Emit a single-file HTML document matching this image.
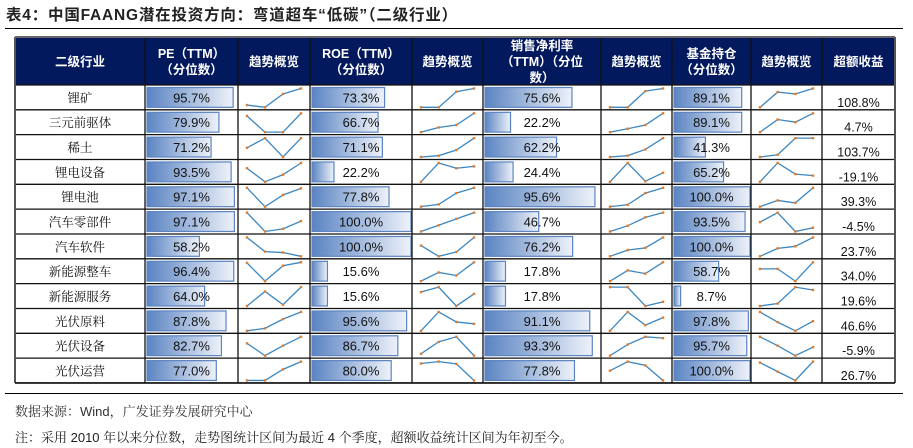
<!DOCTYPE html>
<html><head><meta charset="utf-8">
<style>
body{margin:0;width:913px;height:448px;background:#fff;position:relative;overflow:hidden;font-family:"Liberation Sans","Noto Sans CJK SC",sans-serif;}
#title{position:absolute;left:6px;top:3px;font-size:15.5px;font-weight:bold;color:#222;letter-spacing:0.8px;white-space:nowrap;}
#rule1{position:absolute;left:5px;top:28px;width:898px;height:1px;background:#000;}
#rule2{position:absolute;left:5px;top:393px;width:898px;height:1px;background:#000;}
#src{position:absolute;left:15px;top:401px;font-size:13px;color:#333;font-family:"Liberation Sans","Noto Serif CJK SC",serif;}
#note{position:absolute;left:15px;top:427px;font-size:13px;color:#222;font-family:"Liberation Sans","Noto Serif CJK SC",serif;white-space:nowrap;}
</style></head><body>
<div id="title">表4：中国FAANG潜在投资方向：弯道超车“低碳”（二级行业）</div>
<div id="rule1"></div>
<svg id="tbl" width="913" height="448" style="position:absolute;left:0;top:0"></svg>
<div id="rule2"></div>
<div id="src">数据来源：Wind，广发证券发展研究中心</div>
<div id="note">注：采用 2010 年以来分位数，走势图统计区间为最近 4 个季度，超额收益统计区间为年初至今。</div>
<script>
const industries=["锂矿","三元前驱体","稀土","锂电设备","锂电池","汽车零部件","汽车软件","新能源整车","新能源服务","光伏原料","光伏设备","光伏运营"];
const pe=[95.7,79.9,71.2,93.5,97.1,97.1,58.2,96.4,64.0,87.8,82.7,77.0];
const roe=[73.3,66.7,71.1,22.2,77.8,100.0,100.0,15.6,15.6,95.6,86.7,80.0];
const margin=[75.6,22.2,62.2,24.4,95.6,46.7,76.2,17.8,17.8,91.1,93.3,77.8];
const fund=[89.1,89.1,41.3,65.2,100.0,93.5,100.0,58.7,8.7,97.8,95.7,100.0];
const excess=["108.8%","4.7%","103.7%","-19.1%","39.3%","-4.5%","23.7%","34.0%","19.6%","46.6%","-5.9%","26.7%"];
const peTrend=[[0.12,0,0.71,1],[0.86,0,0,1],[0.49,1,0,1],[0.72,0,0.38,1],[1,0,0.62,0.97],[1,0,0.14,0.55],[1,0.25,0.2,0],[0.97,0,0.82,1],[0,0.77,0.07,1],[0,0.13,0.62,1],[0.65,0,0.53,1],[0,0,0.59,1]];
const roeTrend=[[0,0,0.83,1],[0,0.25,0.38,1],[0,0.07,0.37,1],[0,1,0.72,0.82],[0,0.12,0.72,1],[0,0.33,0.67,1],[0.57,0,0.23,1],[0,0.46,0.3,1],[0.74,1,0,0.64],[0,1,0.47,0.37],[0.1,0.73,1,0],[0.9,1,0.88,0]];
const marginTrend=[[0,0,0.86,1],[0,0.18,0.38,1],[0,0.07,0.4,1],[0,1,0.03,0.48],[0,0.1,0.72,1],[0,0.3,0.75,1],[0,0.33,0.45,1],[0,0.57,0.4,1],[1,1,0,0.22],[0,1,0.3,0.7],[0,0.59,1,0.93],[0.52,1,0.8,0]];
const fundTrend=[[0,0.81,0.71,1],[0,0.67,0.53,1],[0,0.12,1,1],[0,1,0.41,0.33],[0,0.33,0.2,1],[0.5,1,0,0.2],[0,0.42,0.53,1],[0.65,0.65,0,1],[0,0.13,1,0.85],[1,0.46,0,0.51],[1,0.53,0,0.45],[0.95,0.47,0,1]];
const headers=[["二级行业"],["PE（TTM）","（分位数）"],["趋势概览"],["ROE（TTM）","（分位数）"],["趋势概览"],["销售净利率","（TTM）（分位","数）"],["趋势概览"],["基金持仓","（分位数）"],["趋势概览"],["超额收益"]];

const NS="http://www.w3.org/2000/svg";
const svg=document.getElementById('tbl');
const cols=[15,145,238,310,412,483,601,672,751,822,895];
const top0=37,headH=48,rowH=24.83;
const rowY=i=>top0+headH+i*rowH;
const SANS='font-family:"Liberation Sans","Noto Sans CJK SC",sans-serif';
const SERIF='font-family:"Liberation Serif","Noto Serif CJK SC",serif';
function mk(tag,attrs,parent){const e=document.createElementNS(NS,tag);for(const k in attrs)e.setAttribute(k,attrs[k]);(parent||svg).appendChild(e);return e;}
const defs=mk('defs',{});
const lg=mk('linearGradient',{id:'bg',x1:'0',x2:'1',y1:'0',y2:'0'},defs);
mk('stop',{offset:'0','stop-color':'#5b84c2'},lg);
mk('stop',{offset:'1','stop-color':'#eef2f9'},lg);

const hdr=mk('rect',{x:cols[0],y:top0,width:cols[10]-cols[0],height:headH,fill:'#03195e'});


headers.forEach((h,c)=>{
  const cx=(cols[c]+cols[c+1])/2;
  const n=h.length,lh=16;
  h.forEach((t,k)=>{
    const tx=mk('text',{x:cx,y:top0+headH/2+(k-(n-1)/2)*lh+5,'text-anchor':'middle','font-size':12.5,'font-weight':'bold',fill:'#fff',style:SANS});
    tx.textContent=t;
    
    
  });
});

function bar(c,i,v){
  const x0=cols[c]+2,w=(cols[c+1]-cols[c]-3)*v/100;
  const y=rowY(i)+2.5,h=rowH-5;
  const r=mk('rect',{x:x0,y:y,width:w,height:h,fill:'url(#bg)',stroke:'#5b84c2','stroke-width':1.2});
  
  
  const t=mk('text',{x:(cols[c]+cols[c+1])/2,y:rowY(i)+rowH/2+5,'text-anchor':'middle','font-size':13,fill:'#111',style:SANS});
  t.textContent=v.toFixed(1)+'%';
  
  
}
function spark(c,i,vals){
  const x0=cols[c]+9,x1=cols[c+1]-9;
  const yT=rowY(i)+3.5,yB=rowY(i)+rowH-2.5;
  const px=k=>x0+(x1-x0)*k/(vals.length-1);
  const py=v=>yB-(yB-yT)*v;
  const pts=vals.map((v,k)=>px(k)+','+py(v)).join(' ');
  const l=mk('polyline',{points:pts,fill:'none',stroke:'#3a87c4','stroke-width':1.3});
  
  
  vals.forEach((v,k)=>{
    const m=mk('rect',{x:px(k)-1.2,y:py(v)-1.2,width:2.4,height:2.4,fill:'#e07b2a'});
    
    
  });
}
industries.forEach((name,i)=>{
  const t=mk('text',{x:(cols[0]+cols[1])/2,y:rowY(i)+rowH/2+5,'text-anchor':'middle','font-size':12.5,fill:'#111',style:SERIF});
  t.textContent=name;
  
  
  bar(1,i,pe[i]);spark(2,i,peTrend[i]);
  bar(3,i,roe[i]);spark(4,i,roeTrend[i]);
  bar(5,i,margin[i]);spark(6,i,marginTrend[i]);
  bar(7,i,fund[i]);spark(8,i,fundTrend[i]);
  const e=mk('text',{x:(cols[9]+cols[10])/2,y:rowY(i)+rowH-3,'text-anchor':'middle','font-size':12.5,fill:'#111',style:SANS});
  e.textContent=excess[i];
  
  
});
const bottom=rowY(industries.length);
for(let i=0;i<=industries.length;i++){
  mk('line',{x1:cols[0],x2:cols[10],y1:rowY(i),y2:rowY(i),stroke:'#111','stroke-width':1.3});
}
cols.forEach((x,k)=>{
  mk('line',{x1:x,x2:x,y1:top0,y2:bottom,stroke:(k==0||k==10)?'#555':'#111','stroke-width':(k==0||k==10)?2:1.3});
});
mk('line',{x1:cols[0],x2:cols[10],y1:top0,y2:top0,stroke:'#666','stroke-width':2});
mk('line',{x1:cols[0],x2:cols[10],y1:bottom,y2:bottom,stroke:'#111','stroke-width':1.5});
</script>
</body></html>
